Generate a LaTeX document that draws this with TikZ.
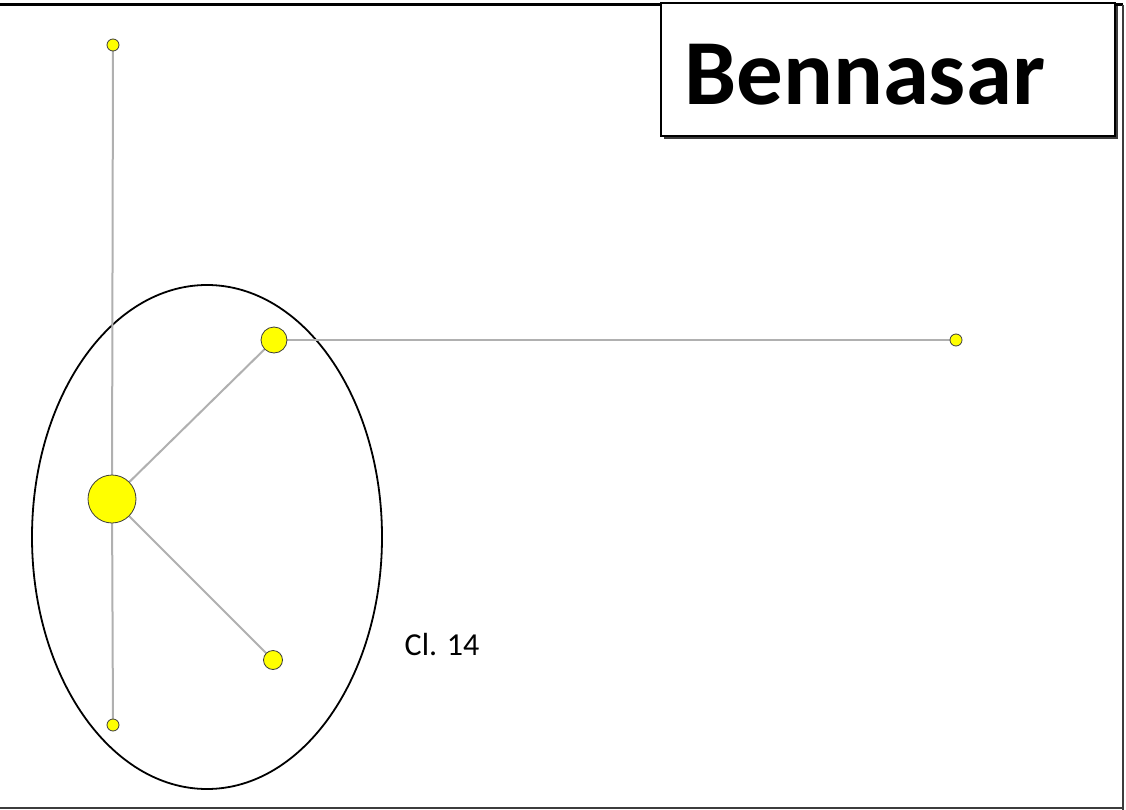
\documentclass[tikz,border=0pt]{standalone}
\usepackage{fontspec}
\setmainfont{Carlito}
\definecolor{edgegray}{RGB}{176,176,176}
\definecolor{nodeyellow}{RGB}{255,255,0}
\definecolor{framegray}{RGB}{60,60,60}
\tikzset{
  vert/.style={circle, fill=nodeyellow, draw=framegray, line width=0.8pt, inner sep=0pt, minimum size=#1},
  edge/.style={draw=edgegray, line width=2pt},
}
\begin{document}
\begin{tikzpicture}[x=1pt,y=-1pt]
\useasboundingbox (0,0) rectangle (1126,810);
\fill[white] (0,0) rectangle (1126,810);
% frame
\draw[black, line width=3pt] (0,5) -- (1123,5);
\draw[framegray, line width=2.5pt] (1123,5) -- (1123,810);
\draw[framegray, line width=2pt] (0,808) -- (1123,808);
% title box
\fill[framegray] (664,6) rectangle (1118,139);
\draw[black, line width=2pt, fill=white] (661,3) rectangle (1115,136);
\node[anchor=base west, inner sep=0pt, font=\fontsize{93}{93}\selectfont\bfseries] (title) at (684,105) {Bennasar};
% ellipse
\draw[black, line width=1.8pt] (207,537) ellipse [x radius=175, y radius=252];
\node[font=\fontsize{32}{32}\selectfont] (cl) at (442,645) {Cl. 14};
% vertices
\coordinate (ptop) at (113,45);
\coordinate (pbig) at (112,499);
\coordinate (pur) at (274,340);
\coordinate (plow) at (273,660);
\coordinate (pbot) at (113,725);
\coordinate (pfar) at (956,340);
\draw[edge] (ptop) -- (pbig);
\draw[edge] (pbig) -- (pbot);
\draw[edge] (pbig) -- (pur);
\draw[edge] (pbig) -- (plow);
\draw[edge] (pur) -- (pfar);
\node[vert=12pt] (top) at (ptop) {};
\node[vert=48pt] (big) at (pbig) {};
\node[vert=26pt] (ur) at (pur) {};
\node[vert=19pt] (low) at (plow) {};
\node[vert=12pt] (bot) at (pbot) {};
\node[vert=12pt] (far) at (pfar) {};
\end{tikzpicture}
\end{document}
